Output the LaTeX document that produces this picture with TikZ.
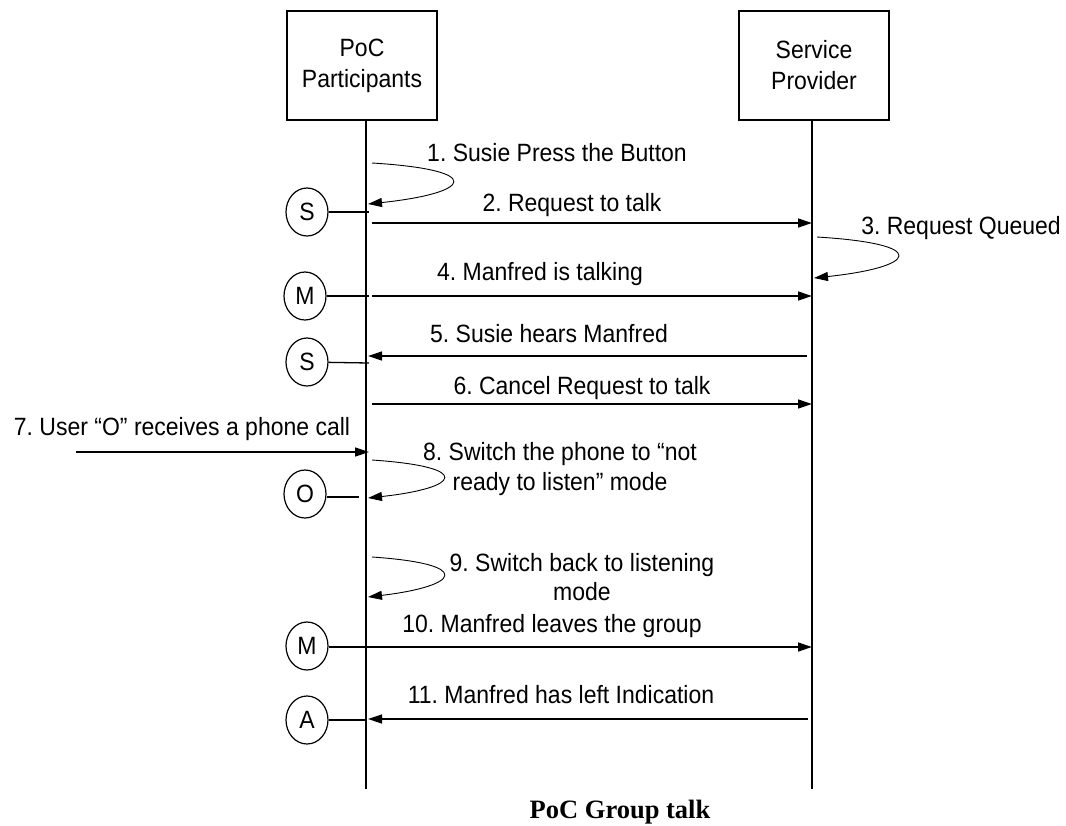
\documentclass[tikz,border=0pt]{standalone}
\usepackage{fontspec}
\setmainfont{Liberation Sans}[FakeStretch=0.92]
\newfontfamily\titlefont{Liberation Serif}
\usetikzlibrary{arrows.meta,shapes.geometric}
\frenchspacing
\begin{document}
\begin{tikzpicture}[x=1pt,y=1pt,
  font=\fontsize{25}{31}\selectfont,
  box/.style={draw, line width=1.3pt, minimum width=150pt, minimum height=109pt, align=center, inner sep=0pt},
  life/.style={line width=1.3pt},
  msg/.style={line width=1.3pt, -{Triangle[length=14pt,width=9pt]}},
  selfloop/.style={line width=0.9pt, -{Triangle[length=14pt,width=9pt]}},
  actor/.style={draw, ellipse, line width=1.2pt, minimum width=42pt, minimum height=48pt, inner sep=0pt},
  tie/.style={line width=1.3pt},
  lbl/.style={inner sep=0pt, align=center, font=\fontsize{25}{29.5}\selectfont}]
\useasboundingbox (0,0) rectangle (1066,-825);

% participants
\node[box] (pp) at (362,-65.5) {PoC\\Participants};
\node[box] (sp) at (814,-65.5) {Service\\Provider};
\coordinate (ppb) at (366,-789);
\coordinate (spb) at (812,-789);
\draw[life] (ppb |- pp.south) -- (ppb);
\draw[life] (spb |- sp.south) -- (spb);

% 1
\node[lbl] (t1) at (557,-153) {1. Susie Press the Button};
\coordinate (l1a) at (372,-163);
\coordinate (l1b) at (368,-204);
\draw[selfloop] (l1a) .. controls (487,-170) and (472,-193) .. (l1b);
\node[actor] (s1) at (307,-212) {S};
\coordinate (s1e) at (369,-212);
\draw[tie] (s1) -- (s1e);

% 2
\node[lbl] (t2) at (572,-205) {2. Request to talk};
\coordinate (m2a) at (372,-223);
\coordinate (m2b) at (812,-223);
\draw[msg] (m2a) -- (m2b);

% 3
\node[lbl] (t3) at (961,-228) {3. Request Queued};
\coordinate (l3a) at (817,-237);
\coordinate (l3b) at (814,-278);
\draw[selfloop] (l3a) .. controls (932,-244) and (917,-267) .. (l3b);

% 4
\node[lbl] (t4) at (540,-274) {4. Manfred is talking};
\node[actor] (m1) at (305,-296) {M};
\coordinate (m1e) at (369,-296);
\draw[tie] (m1) -- (m1e);
\coordinate (m4a) at (372,-296);
\coordinate (m4b) at (812,-296);
\draw[msg] (m4a) -- (m4b);

% 5
\node[lbl] (t5) at (549,-334) {5. Susie hears Manfred};
\coordinate (m5a) at (807,-356);
\coordinate (m5b) at (368,-356);
\draw[msg] (m5a) -- (m5b);
\node[actor] (s2) at (307,-362) {S};
\coordinate (s2e) at (369,-363);
\draw[tie] (s2) -- (s2e);

% 6
\node[lbl] (t6) at (582,-388) {6. Cancel Request to talk};
\coordinate (m6a) at (372,-404);
\coordinate (m6b) at (812,-404);
\draw[msg] (m6a) -- (m6b);

% 7
\node[lbl] (t7) at (182,-429) {7. User “O” receives a phone call};
\coordinate (m7a) at (76,-452);
\coordinate (m7b) at (369,-452);
\draw[msg] (m7a) -- (m7b);

% 8
\node[lbl] (t8) at (560,-469) {8. Switch the phone to “not\\ready to listen” mode};
\coordinate (l8a) at (372,-460);
\coordinate (l8b) at (368,-498);
\draw[selfloop] (l8a) .. controls (475,-467) and (460,-488) .. (l8b);
\node[actor] (o1) at (305,-494) {O};
\coordinate (o1e) at (359,-497);
\draw[tie] (o1.east |- o1e) -- (o1e);

% 9
\node[lbl] (t9) at (582,-577) {9. Switch back to listening\\mode};
\coordinate (l9a) at (372,-557);
\coordinate (l9b) at (368,-597);
\draw[selfloop] (l9a) .. controls (475,-564) and (460,-586) .. (l9b);

% 10
\node[lbl] (t10) at (552,-626) {10. Manfred leaves the group};
\node[actor] (m2) at (307,-646) {M};
\coordinate (m2e) at (369,-647);
\draw[tie] (m2.east |- m2e) -- (m2e);
\coordinate (m10a) at (366,-647);
\coordinate (m10b) at (812,-647);
\draw[msg] (m10a) -- (m10b);

% 11
\node[lbl] (t11) at (561,-695) {11. Manfred has left Indication};
\node[actor] (a1) at (307,-720) {A};
\coordinate (a1e) at (366,-720);
\draw[tie] (a1) -- (a1e);
\coordinate (m11a) at (808,-719);
\coordinate (m11b) at (368,-719);
\draw[msg] (m11a) -- (m11b);

% caption
\node[inner sep=0pt, font=\titlefont\bfseries\fontsize{26.5}{31}\selectfont] (cap) at (620,-812) {PoC Group talk};
\end{tikzpicture}
\end{document}
